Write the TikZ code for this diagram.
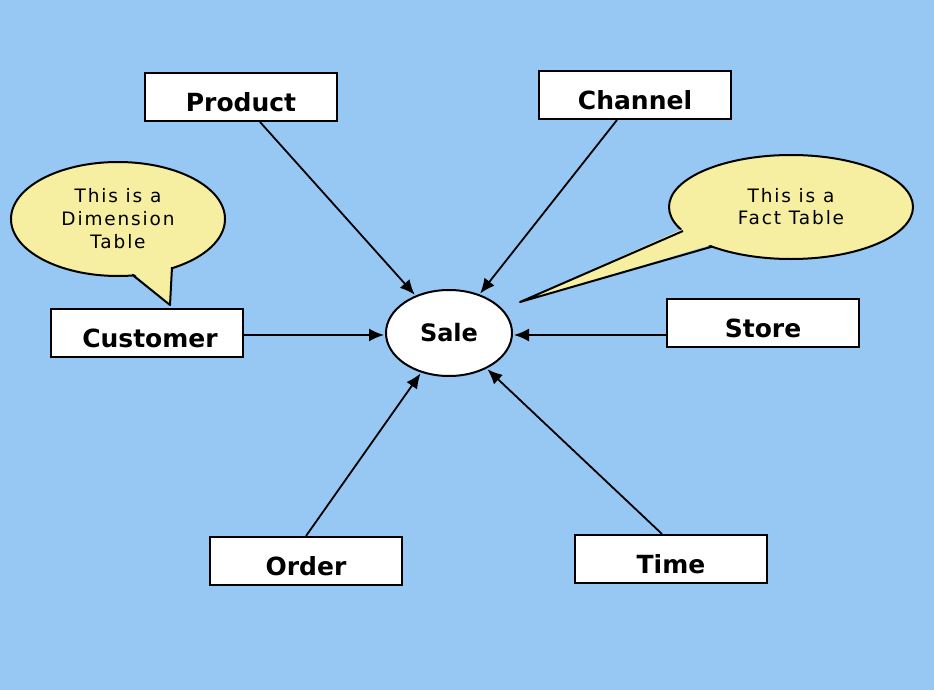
\documentclass[tikz,border=0pt]{standalone}
\usepackage{fontspec}
\setmainfont{DejaVu Sans}
\newfontfamily\calloutfont[LetterSpace=10]{DejaVu Sans}
\usetikzlibrary{shapes.geometric,arrows.meta}
\definecolor{bgblue}{RGB}{151,199,243}
\definecolor{bubble}{RGB}{246,238,160}
\tikzset{
  tablebox/.style={draw=black, line width=2pt, fill=white, minimum width=192pt, minimum height=48pt, inner sep=0pt, text height=29pt, text depth=0pt, font=\fontsize{25}{28}\selectfont\bfseries},
  factnode/.style={ellipse, draw=black, line width=2pt, fill=white, minimum width=126pt, minimum height=86pt, inner sep=0pt, font=\fontsize{24}{28}\selectfont\bfseries},
  bubblebox/.style={ellipse, draw=black, line width=2pt, fill=bubble, inner sep=0pt, align=center, font=\calloutfont\fontsize{18.5}{24}\selectfont},
  tailedge/.style={draw=black, line width=2pt, line join=round},
  conn/.style={draw=black, line width=1.8pt, -{Latex[length=15pt,width=13pt]}, shorten >=1pt}
}
\begin{document}
\begin{tikzpicture}[x=1pt,y=-1pt]
\fill[bgblue] (0,0) rectangle (934,690);
\useasboundingbox (0,0) rectangle (934,690);

% nodes
\node[tablebox] (prod) at (241,97) {Product};
\node[tablebox] (chan) at (635,95) {Channel};
\node[tablebox] (cust) at (147,333) {\hspace*{6pt}Customer};
\node[tablebox] (store) at (763,323) {Store};
\node[tablebox] (order) at (306,561) {Order};
\node[tablebox] (time) at (671,559) {Time};
\node[factnode] (sale) at (449,333) {Sale};

% callouts
\node[bubblebox, minimum width=214pt, minimum height=114pt] (dim) at (118,219) {This is a\\[-1pt]Dimension\\[-1pt]Table};
\coordinate (dimtip) at (170,305);
\fill[bubble] (132,272) -- (dimtip) -- (172,265) -- cycle;
\draw[tailedge] (132,274.5) -- (dimtip) -- (172,267.2);

\node[bubblebox, minimum width=244pt, minimum height=104pt] (fact) at (791,207) {This is a\\[-2pt]Fact Table};
\coordinate (facttip) at (520,302);
\fill[bubble] (685,228) -- (facttip) -- (714,244) -- cycle;
\draw[tailedge] (683,231) -- (facttip) -- (712,246.6);

% connectors
\draw[conn] ([xshift=19pt]prod.south) -- (sale);
\draw[conn] ([xshift=-18pt]chan.south) -- (sale);
\draw[conn] ([yshift=-2pt]cust.east) -- ([yshift=-2pt]sale.west);
\draw[conn] ([yshift=-12pt]store.west) -- ([yshift=-2pt]sale.east);
\draw[conn] (order.north) -- (sale);
\draw[conn] ([xshift=-9pt]time.north) -- (sale);
\end{tikzpicture}
\end{document}
